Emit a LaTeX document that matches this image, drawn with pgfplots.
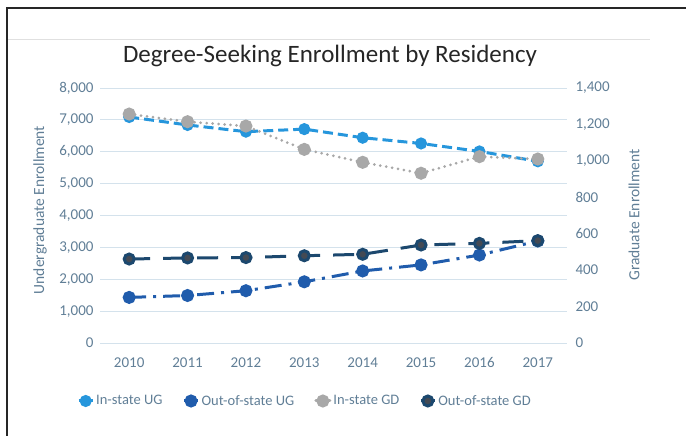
\documentclass[border=0pt]{standalone}
\usepackage{pgfplots}
\pgfplotsset{compat=1.18}
\usepackage{fontspec}
\setmainfont{Carlito}

\definecolor{inUG}{RGB}{38,150,220}
\definecolor{outUG}{RGB}{32,92,172}
\definecolor{inGD}{RGB}{168,168,168}
\definecolor{outGD}{RGB}{28,72,110}
\definecolor{outGDmark}{RGB}{68,74,84}
\definecolor{txt}{RGB}{96,126,150}
\definecolor{gridc}{RGB}{212,226,236}

\pgfplotstableread{
year inug outug
2010 7090 1430
2011 6840 1490
2012 6630 1640
2013 6710 1920
2014 6440 2260
2015 6260 2450
2016 6010 2760
2017 5700 3200
}\ugdata

\pgfplotstableread{
year ingd outgd
2010 1257 461
2011 1215 467
2012 1191 469
2013 1063 479
2014 992 487
2015 932 538
2016 1023 547
2017 1010 562
}\gddata

\begin{document}
\begin{tikzpicture}[x=1pt,y=1pt]
\path[use as bounding box] (0,0) rectangle (686,436);
% frame
\draw[black!85, line width=2pt] (7,0) -- (7,428) -- (686,428);
\draw[black!12, line width=1pt] (8,396) -- (650,396);
\node[font=\fontsize{25}{28}\selectfont, text=black!85] at (330,380) {Degree-Seeking Enrollment by Residency};
\node[rotate=90, font=\fontsize{15.5}{17}\selectfont, text=txt] at (40,226) {Undergraduate Enrollment};
\node[rotate=90, font=\fontsize{15.5}{17}\selectfont, text=txt] at (634,221) {Graduate Enrollment};

\pgfplotsset{
  base/.style={
    scale only axis, width=467pt, height=255pt,
    at={(100pt,93pt)}, anchor=south west,
    xmin=2009.5, xmax=2017.5,
    axis line style={draw=none},
    tick style={draw=none},
    /pgf/number format/assume math mode=true,
    /pgf/number format/1000 sep={,},
    tick label style={font=\fontsize{15}{17}\selectfont, text=txt},
  },
}

\begin{axis}[base,
  ymin=0, ymax=8000, ytick={0,1000,...,8000},
  xtick={2010,...,2017},
  xticklabel style={/pgf/number format/1000 sep={}, yshift=-11pt},
  ymajorgrids, grid style={gridc, line width=0.8pt},
  yticklabel style={xshift=-3pt},
]
\addplot[inUG, line width=3pt, dash pattern=on 10pt off 5pt,
  mark=*, mark size=4.5pt, mark options={solid, fill=inUG, draw=inUG}]
  table[x=year, y=inug] {\ugdata};
\addplot[outUG, line width=3pt, dash pattern=on 17pt off 7pt on 3pt off 7pt,
  mark=*, mark size=5pt, mark options={solid, fill=outUG, draw=outUG}]
  table[x=year, y=outug] {\ugdata};
\end{axis}

\begin{axis}[base,
  ymin=0, ymax=1400, ytick={0,200,...,1400},
  xtick=\empty,
  axis y line*=right, axis x line=none,
  yticklabel style={xshift=5pt, anchor=west},
  legend style={at={(205pt,-58pt)}, anchor=center, draw=none, fill=none,
    legend columns=4, font=\fontsize{14.5}{16}\selectfont, text=txt,
    /tikz/every even column/.append style={column sep=18pt},
    /tikz/every odd column/.append style={column sep=0pt}},
  legend cell align=left,
  legend image code/.code={
    \draw[#1, solid, mark repeat=2, mark phase=2]
      plot coordinates {(0pt,0pt) (7pt,0pt) (14pt,0pt)};},
]
\addlegendimage{inUG, line width=3pt, mark=*, mark size=4.5pt, mark options={fill=inUG}}
\addlegendentry{In-state UG}
\addlegendimage{outUG, line width=3pt, mark=*, mark size=5pt, mark options={fill=outUG}}
\addlegendentry{Out-of-state UG}
\addplot[inGD, line width=3pt, dash pattern=on 0pt off 6pt, line cap=round,
  mark=*, mark size=5pt, mark options={solid, fill=inGD, draw=inGD}]
  table[x=year, y=ingd] {\gddata};
\addlegendentry{In-state GD}
\addplot[outGD, line width=3pt, dash pattern=on 21pt off 13pt,
  mark=*, mark size=5pt, mark options={solid, fill=outGDmark, draw=outGD}]
  table[x=year, y=outgd] {\gddata};
\addlegendentry{Out-of-state GD}
\end{axis}
\end{tikzpicture}
\end{document}
